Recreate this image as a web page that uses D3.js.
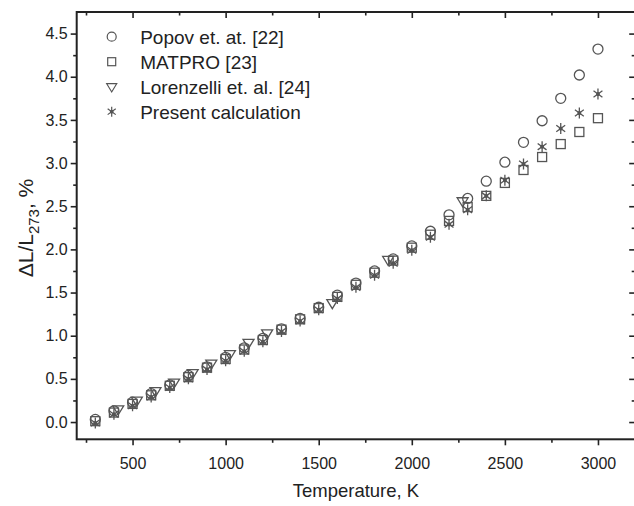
<!DOCTYPE html>
<html>
<head>
<meta charset="utf-8">
<script src="https://cdn.jsdelivr.net/npm/d3@7"></script>
<style>
  body { margin: 0; background: #fff; }
  svg { display: block; font-family: "Liberation Sans", Arial, sans-serif; }
</style>
</head>
<body>
<div class="board"></div>
<script>
// data
var temps = [300, 400, 500, 600, 700, 800, 900, 1000, 1100, 1200, 1300, 1400, 1500, 1600,
  1700, 1800, 1900, 2000, 2100, 2200, 2300, 2400, 2500, 2600, 2700, 2800, 2900, 3000];
var popov = [0.03, 0.13, 0.23, 0.33, 0.43, 0.54, 0.64, 0.75, 0.86, 0.97, 1.08, 1.20, 1.33, 1.47,
  1.61, 1.75, 1.89, 2.04, 2.21, 2.40, 2.59, 2.79, 3.01, 3.24, 3.49, 3.75, 4.02, 4.32];
var matpro = [0.01, 0.11, 0.21, 0.31, 0.42, 0.52, 0.63, 0.73, 0.84, 0.95, 1.07, 1.19, 1.32, 1.45,
  1.59, 1.73, 1.87, 2.02, 2.17, 2.33, 2.49, 2.62, 2.77, 2.92, 3.07, 3.22, 3.36, 3.52];
var present = [-0.01, 0.09, 0.19, 0.29, 0.40, 0.50, 0.61, 0.71, 0.82, 0.93, 1.05, 1.17, 1.30, 1.43,
  1.56, 1.70, 1.84, 1.99, 2.14, 2.29, 2.46, 2.62, 2.80, 2.99, 3.19, 3.40, 3.58, 3.80];
var lorTemps = [423, 523, 623, 723, 823, 923, 1023, 1123, 1223, 1573, 1873, 2273];
var lorenzelli = [0.15, 0.25, 0.36, 0.46, 0.57, 0.68, 0.79, 0.92, 1.03, 1.38, 1.88, 2.56];

var xMajor = [500, 1000, 1500, 2000, 2500, 3000];
var xMinor = [250, 750, 1250, 1750, 2250, 2750];
var yMajor = [0, 0.5, 1, 1.5, 2, 2.5, 3, 3.5, 4, 4.5];
var yMinor = [0.25, 0.75, 1.25, 1.75, 2.25, 2.75, 3.25, 3.75, 4.25];

var legendNames = ['Popov et. at. [22]', 'MATPRO [23]', 'Lorenzelli et. al. [24]', 'Present calculation'];

var settings = {
  w: 634,
  h: 506,
  left: 76.7,
  right: 635.2,
  top: 12,
  bottom: 439.3,
  ink: '#222',
  mark: '#555'
};

var board = d3.select('.board')
  .append('svg')
  .attr('width', settings.w)
  .attr('height', settings.h);

var x = d3.scaleLinear().domain([200, 3200]).range([settings.left, settings.right]);
var y = d3.scaleLinear().domain([-0.2, 4.75]).range([settings.bottom, settings.top]);

// axes: major + minor on each side
var drawAxis = function(axisFn, scale, pos, major, minor, labels) {
  var g = board.append('g').attr('transform', pos);
  g.call(axisFn(scale).tickValues(major).tickSize(6).tickSizeOuter(0)
    .tickFormat(labels ? (major === yMajor ? d3.format('.1f') : d3.format('d')) : ''));
  g.append('g').call(axisFn(scale).tickValues(minor).tickSize(3.5).tickSizeOuter(0).tickFormat(''));
  g.selectAll('.domain').remove();
  g.selectAll('line').attr('stroke', settings.ink).attr('stroke-width', 1.6);
  g.selectAll('text').attr('fill', settings.ink).style('font-size', '16px');
  return g;
};

var bottomAxis = drawAxis(d3.axisBottom, x, 'translate(0,' + settings.bottom + ')', xMajor, xMinor, true);
bottomAxis.selectAll('text').attr('dy', '1.3em');
var leftAxis = drawAxis(d3.axisLeft, y, 'translate(' + settings.left + ',0)', yMajor, yMinor, true);
leftAxis.selectAll('text').attr('x', -9);
drawAxis(d3.axisTop, x, 'translate(0,' + settings.top + ')', xMajor, xMinor, false)
  .selectAll('.tick line').attr('y2', function() { return -d3.select(this).attr('y2'); });
drawAxis(d3.axisRight, y, 'translate(' + settings.right + ',0)', yMajor, yMinor, false)
  .selectAll('.tick line').attr('x2', function() { return -d3.select(this).attr('x2'); });

// frame
board.append('rect')
  .attr('x', settings.left)
  .attr('y', settings.top)
  .attr('width', settings.right - settings.left)
  .attr('height', settings.bottom - settings.top)
  .attr('fill', 'none')
  .attr('stroke', settings.ink)
  .attr('stroke-width', 2);

// marker shapes
var drawCircle = function(g, r) {
  g.append('circle').attr('r', r);
};
var drawSquare = function(g, s) {
  g.append('rect').attr('x', -s).attr('y', -s).attr('width', 2 * s).attr('height', 2 * s);
};
var drawTriangle = function(g, s) {
  g.append('path').attr('d', 'M' + (-s) + ',' + (-s * 0.6) + 'L' + s + ',' + (-s * 0.6) + 'L0,' + (s * 1.05) + 'Z');
};
var drawStar = function(g, s) {
  var a = s * Math.cos(Math.PI / 5), b = s * Math.sin(Math.PI / 5);
  g.append('path').attr('d', 'M0,' + (-s) + 'L0,' + s +
    'M' + (-a) + ',' + (-b) + 'L' + a + ',' + b +
    'M' + (-a) + ',' + b + 'L' + a + ',' + (-b));
  g.append('circle').attr('r', 1.3).attr('fill', settings.mark);
};

var plotSeries = function(xs, ys, shape, size) {
  board.append('g')
    .selectAll('g')
    .data(d3.range(xs.length))
    .enter()
    .append('g')
    .attr('transform', function(i) { return 'translate(' + x(xs[i]) + ',' + y(ys[i]) + ')'; })
    .attr('fill', 'none')
    .attr('stroke', settings.mark)
    .attr('stroke-width', 1.3)
    .each(function() { shape(d3.select(this), size); });
};

plotSeries(temps, popov, drawCircle, 5);
plotSeries(temps, matpro, drawSquare, 4.5);
plotSeries(lorTemps, lorenzelli, drawTriangle, 5.5);
plotSeries(temps, present, drawStar, 5.5);

// legend
var legendShapes = [drawCircle, drawSquare, drawTriangle, drawStar];
var legendSizes = [4.5, 4, 5, 5];
var legend = board.append('g')
  .selectAll('g')
  .data(legendNames)
  .enter()
  .append('g')
  .attr('transform', function(d, i) { return 'translate(111.7,' + (36.7 + i * 25) + ')'; });

legend.append('g')
  .attr('fill', 'none')
  .attr('stroke', settings.mark)
  .attr('stroke-width', 1.2)
  .each(function(d, i) { legendShapes[i](d3.select(this), legendSizes[i]); });

legend.append('text')
  .attr('x', 28.5)
  .attr('y', 7)
  .attr('fill', settings.ink)
  .style('font-size', '19px')
  .text(function(d) { return d; });

// axis titles
board.append('text')
  .attr('x', (settings.left + settings.right) / 2)
  .attr('y', 497)
  .attr('text-anchor', 'middle')
  .attr('fill', settings.ink)
  .style('font-size', '18.5px')
  .text('Temperature, K');

var yTitle = board.append('text')
  .attr('transform', 'translate(33,228) rotate(-90)')
  .attr('text-anchor', 'middle')
  .attr('fill', settings.ink)
  .style('font-size', '21px');
yTitle.append('tspan').text('ΔL/L');
yTitle.append('tspan').attr('dy', 6).style('font-size', '15px').text('273');
yTitle.append('tspan').attr('dy', -6).text(', %');
</script>
</body>
</html>
